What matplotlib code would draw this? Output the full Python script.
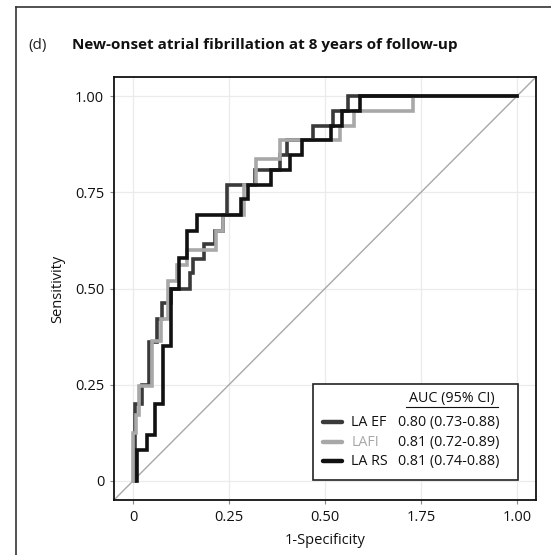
import matplotlib
matplotlib.use("Agg")
import matplotlib.pyplot as plt
from matplotlib.patches import Rectangle
from matplotlib.lines import Line2D

plt.rcParams['font.family'] = ['Open Sans', 'DejaVu Sans']

# ROC staircase vertices (1-Specificity, Sensitivity)
rs_fpr = [0.01, 0.01, 0.035, 0.035, 0.058, 0.058, 0.077, 0.077, 0.098, 0.098, 0.12, 0.12, 0.139, 0.139,
          0.166, 0.166, 0.282, 0.282, 0.30, 0.30, 0.36, 0.36, 0.41, 0.41,
          0.44, 0.44, 0.515, 0.515, 0.545, 0.545, 0.59, 0.59, 1.0]
rs_tpr = [0.0, 0.08, 0.08, 0.12, 0.12, 0.20, 0.20, 0.35, 0.35, 0.50, 0.50, 0.58, 0.58, 0.65,
          0.65, 0.692, 0.692, 0.733, 0.733, 0.769, 0.769, 0.808, 0.808, 0.846,
          0.846, 0.885, 0.885, 0.923, 0.923, 0.962, 0.962, 1.0, 1.0]

ef_fpr = [0.005, 0.005, 0.024, 0.024, 0.04, 0.04, 0.062, 0.062, 0.075, 0.075, 0.098, 0.098, 0.147, 0.147,
          0.155, 0.155, 0.185, 0.185, 0.212, 0.212, 0.235, 0.235, 0.245, 0.245, 0.318, 0.318,
          0.383, 0.383, 0.40, 0.40, 0.47, 0.47, 0.52, 0.52, 0.56, 0.56, 1.0]
ef_tpr = [0.0, 0.20, 0.20, 0.25, 0.25, 0.36, 0.36, 0.42, 0.42, 0.463, 0.463, 0.50, 0.50, 0.54,
          0.54, 0.576, 0.576, 0.615, 0.615, 0.65, 0.65, 0.692, 0.692, 0.769, 0.769, 0.808,
          0.808, 0.846, 0.846, 0.885, 0.885, 0.923, 0.923, 0.962, 0.962, 1.0, 1.0]

fi_fpr = [0.0, 0.0, 0.007, 0.007, 0.016, 0.016, 0.05, 0.05, 0.072, 0.072, 0.09, 0.09, 0.115, 0.115,
          0.14, 0.14, 0.216, 0.216, 0.235, 0.235, 0.29, 0.29, 0.32, 0.32, 0.383, 0.383, 0.54, 0.54,
          0.575, 0.575, 0.73, 0.73, 1.0]
fi_tpr = [0.0, 0.124, 0.124, 0.17, 0.17, 0.246, 0.246, 0.364, 0.364, 0.42, 0.42, 0.52, 0.52, 0.56,
          0.56, 0.60, 0.60, 0.65, 0.65, 0.692, 0.692, 0.769, 0.769, 0.837, 0.837, 0.885, 0.885, 0.923,
          0.923, 0.962, 0.962, 1.0, 1.0]

series_names = ["LA EF", "LAFI", "LA RS"]
auc_labels = ["0.80 (0.73-0.88)", "0.81 (0.72-0.89)", "0.81 (0.74-0.88)"]
colors = ["#3a3a3a", "#a8a8a8", "#111111"]
ticks = [0, 0.25, 0.5, 0.75, 1.0]
x_ticklabels = ["0", "0.25", "0.50", "1.75", "1.00"]
y_ticklabels = ["0", "0.25", "0.50", "0.75", "1.00"]

W, H = 551, 555
fig = plt.figure(figsize=(W / 100, H / 100), dpi=100)
fig.patch.set_facecolor("white")

# outer panel frame (left and top visible)
fig.add_artist(Line2D([16 / W, 16 / W], [0, 1 - 7 / H], transform=fig.transFigure, color="#333333", lw=1.2))
fig.add_artist(Line2D([16 / W, 1], [1 - 7 / H, 1 - 7 / H], transform=fig.transFigure, color="#333333", lw=1.2))

fig.text(28 / W, 1 - 45 / H, "(d)", fontsize=11, va="center", ha="left", color="#222222")
fig.text(72 / W, 1 - 45 / H, "New-onset atrial fibrillation at 8 years of follow-up", fontsize=11,
         fontweight="bold", va="center", ha="left", color="#111111")

ax = fig.add_axes([114 / W, 1 - 500 / H, 422 / W, 423 / H])
ax.set_xlim(-0.05, 1.05)
ax.set_ylim(-0.05, 1.05)
ax.set_xticks(ticks)
ax.set_yticks(ticks)
ax.set_xticklabels(x_ticklabels)
ax.set_yticklabels(y_ticklabels)
ax.grid(True, color="#ebebeb", lw=0.9)
ax.set_axisbelow(True)
ax.tick_params(length=3, width=0.8, color="#888888", labelsize=10.5, labelcolor="#111111", pad=4)
for s in ax.spines.values():
    s.set_linewidth(1.3)
    s.set_color("#111111")

ax.plot([-0.05, 1.05], [-0.05, 1.05], color="#a8a8a8", lw=1.0, zorder=2)

curves = [(ef_fpr, ef_tpr), (fi_fpr, fi_tpr), (rs_fpr, rs_tpr)]
order = [1, 0, 2]
for i in order:
    fx, ty = curves[i]
    ax.plot(fx, ty, color=colors[i], lw=2.6, solid_joinstyle="miter", zorder=3 + i)

ax.set_xlabel("1-Specificity", fontsize=10.5, color="#111111", labelpad=6)
ax.set_ylabel("Sensitivity", fontsize=10.5, color="#111111", labelpad=7)

# legend box
ax.add_patch(Rectangle((0.472, 0.047), 0.485, 0.227, transform=ax.transAxes, facecolor="white",
                       edgecolor="#222222", lw=1.2, zorder=10))
ax.text(0.801, 0.241, "AUC (95% CI)", transform=ax.transAxes, ha="center", va="center", fontsize=10.3,
        color="#111111", zorder=11)
ax.add_line(Line2D([0.692, 0.91], [0.221, 0.221], transform=ax.transAxes, color="#111111", lw=0.8, zorder=11))
rows_y = [0.184, 0.137, 0.092]
for i in range(3):
    y = rows_y[i]
    ax.add_line(Line2D([0.495, 0.540], [y, y], transform=ax.transAxes, color=colors[i], lw=3.2,
                       solid_capstyle="round", zorder=11))
    ax.text(0.562, y, series_names[i], transform=ax.transAxes, ha="left", va="center", fontsize=10.3,
            color=colors[i] if i == 1 else "#111111", zorder=11)
    ax.text(0.673, y, auc_labels[i], transform=ax.transAxes, ha="left", va="center", fontsize=10.3,
            color="#111111", zorder=11)

fig.savefig("out.png", dpi=100, facecolor="white")
